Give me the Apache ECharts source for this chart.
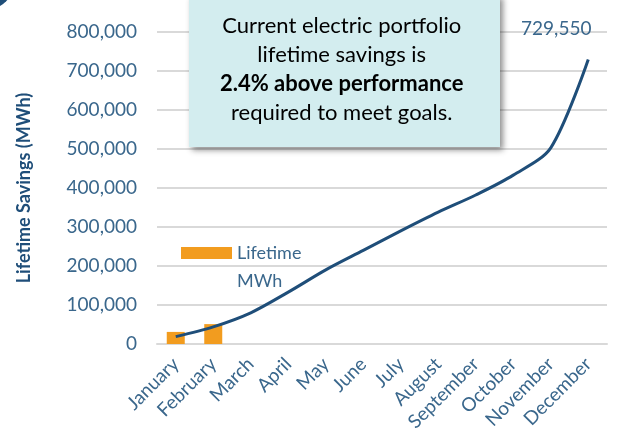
<!DOCTYPE html>
<html>
<head>
<meta charset="utf-8">
<script src="https://cdn.jsdelivr.net/npm/echarts@6/dist/echarts.min.js"></script>
<style>
  html, body { margin: 0; padding: 0; background: #fff; }
  #chart { width: 624px; height: 438px; }
</style>
</head>
<body>
<div id="chart"></div>
<script>
const months = ["January", "February", "March", "April", "May", "June", "July",
  "August", "September", "October", "November", "December"];
// monthly lifetime MWh (only first two months reported)
const monthlyMWh = [31000, 51000, null, null, null, null, null, null, null, null, null, null];
// cumulative lifetime savings
const cumulative = [19000, 44000, 80000, 133000, 190000, 240000, 290000, 338000, 382000, 433000, 503000, 729550];
const yTicks = [0, 800000, 100000]; // min, max, step

const navy = "#1F4E79";
const tickBlue = "#3A678C";
const fontName = "Lato, 'Noto Sans', sans-serif";

const chart = echarts.init(document.getElementById("chart"));

const lineData = cumulative.map((v, i) => {
  if (i === cumulative.length - 1) {
    return {
      value: v,
      label: {
        show: true,
        position: "top",
        offset: [-32, -16],
        color: tickBlue,
        fontSize: 19,
        fontFamily: fontName,
        formatter: p => p.value.toLocaleString("en-US")
      }
    };
  }
  return v;
});

chart.setOption({
  animation: false,
  textStyle: { fontFamily: fontName },
  grid: { left: 157, right: 17, top: 32, bottom: 94 },
  legend: {
    left: 181,
    top: 244,
    padding: 0,
    itemWidth: 51,
    itemHeight: 12,
    itemGap: 0,
    icon: "rect",
    data: ["Lifetime MWh"],
    formatter: () => "Lifetime",
    textStyle: { color: tickBlue, fontSize: 18 }
  },
  xAxis: {
    type: "category",
    data: months,
    axisLine: { lineStyle: { color: "#D9D9D9", width: 2 } },
    axisTick: { show: false },
    axisLabel: { rotate: 45, color: tickBlue, fontSize: 19, margin: 17, interval: 0 }
  },
  yAxis: {
    type: "value",
    min: yTicks[0],
    max: yTicks[1],
    interval: yTicks[2],
    name: "Lifetime Savings (MWh)",
    nameLocation: "middle",
    nameGap: 124,
    nameTextStyle: { color: navy, fontSize: 18, fontWeight: "bold" },
    axisLine: { show: false },
    axisTick: { show: false },
    axisLabel: {
      color: tickBlue,
      fontSize: 19,
      margin: 20,
      formatter: v => v.toLocaleString("en-US")
    },
    splitLine: { lineStyle: { color: "#D9D9D9", width: 2 } }
  },
  series: [
    {
      name: "Lifetime MWh",
      type: "bar",
      data: monthlyMWh,
      barWidth: 18,
      itemStyle: { color: "#F29C1F" }
    },
    {
      name: "Cumulative",
      type: "line",
      data: lineData,
      smooth: 0.3,
      symbol: "circle",
      symbolSize: 0,
      showSymbol: true,
      lineStyle: { color: navy, width: 3 },
      z: 3
    }
  ],
  graphic: [
    {
      type: "circle",
      shape: { cx: -15, cy: -20, r: 30 },
      style: { fill: navy }
    },
    {
      // second line of the legend label
      type: "text",
      left: 237,
      top: 272,
      style: { text: "MWh", fill: tickBlue, fontSize: 18, fontFamily: fontName }
    },
    {
      type: "rect",
      shape: { x: 189, y: -5, width: 311, height: 152 },
      style: {
        fill: "#D3EDEF",
        shadowBlur: 6,
        shadowOffsetX: 3,
        shadowOffsetY: 3,
        shadowColor: "rgba(0,0,0,0.45)"
      },
      z: 10
    },
    {
      type: "text",
      left: 220,
      top: 15,
      z: 11,
      style: {
        text: "{n|Current electric portfolio}\n{n|lifetime savings is}\n{b|2.4% above performance}\n{n|required to meet goals.}",
        align: "center",
        rich: {
          n: { fontSize: 22, color: "#2E5E8A", lineHeight: 29, fontFamily: fontName, align: "center" },
          b: { fontSize: 22, color: navy, fontWeight: "bold", lineHeight: 29, fontFamily: fontName, align: "center" }
        }
      }
    }
  ]
});
</script>
</body>
</html>
